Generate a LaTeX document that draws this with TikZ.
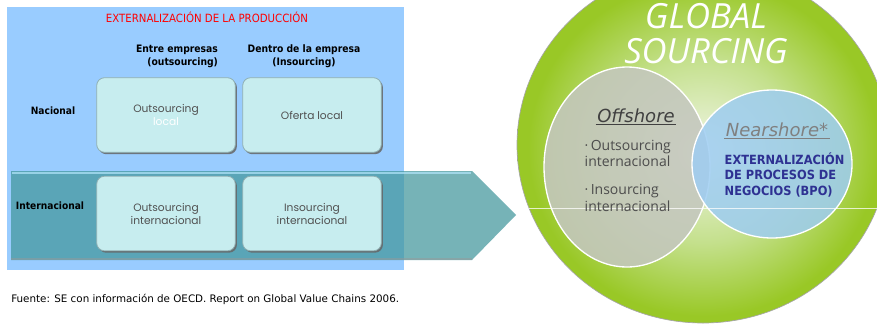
\documentclass[tikz,border=0pt]{standalone}
\usepackage{amsmath, amssymb}
\usepackage{xcolor}
\usepackage{fontspec}
\usepackage{tikz}
\usetikzlibrary{shadows}
\setmainfont{Liberation Sans}
\newfontfamily\tahoma{DejaVu Sans Condensed}
\newfontfamily\verdana{DejaVu Sans}
\newfontfamily\gothic{Poppins}
\newfontfamily\opensans{Open Sans}

\definecolor{skyblue}{HTML}{99CCFF}
\definecolor{bandteal}{RGB}{66,150,156}
\definecolor{cellfill}{HTML}{C7EDEF}
\definecolor{celledge}{HTML}{8FAFB2}
\definecolor{celltext}{HTML}{505050}
\definecolor{leafgreen}{HTML}{99C826}
\definecolor{paleleaf}{HTML}{F0F5E6}
\definecolor{midleaf}{HTML}{C4E08C}
\definecolor{offgray}{HTML}{C4C7BE}
\definecolor{nearblue}{HTML}{9ECDF2}
\definecolor{bpoblue}{HTML}{2E3192}

\pgfdeclareradialshading{glow}{\pgfpoint{0bp}{-1bp}}{color(0bp)=(paleleaf); color(13bp)=(midleaf); color(23.5bp)=(leafgreen); color(50bp)=(leafgreen)}

\begin{document}
\begin{tikzpicture}[x=0.75pt, y=-0.75pt,
    cell/.style={draw=celledge, line width=0.6pt, fill=cellfill, rounded corners=6pt,
      minimum width=104pt, minimum height=56pt, align=center, text=celltext,
      font=\gothic\fontsize{8}{9.75}\selectfont,
      drop shadow={shadow xshift=1.2pt, shadow yshift=-1.4pt, fill=black!60, opacity=.85}},
    rowlabel/.style={font=\tahoma\bfseries\fontsize{7.6}{9}\selectfont},
    colhead/.style={font=\tahoma\bfseries\fontsize{7.7}{9.75}\selectfont},
    shoretitle/.style={font=\verdana\itshape\fontsize{13.5}{16}\selectfont, inner sep=1pt},
    bullets/.style={font=\opensans\fontsize{10.5}{12.4}\selectfont, text=black!70, align=left, anchor=west}]
      \useasboundingbox (0,0) rectangle (877,326);
      \clip (0,0) rectangle (877,326);
      \fill[white] (0,0) rectangle (877,326);
        % externalizacion table
      \fill[skyblue] (7,7) rectangle (404,270);
      \fill[bandteal, opacity=.72] (11,171) -- (472,171) -- (516,215) -- (472,260) -- (11,260) -- cycle;
      \draw[cyan!30, opacity=.7, line width=1pt] (12,173) -- (471,173);
      \draw[black!40, opacity=.5, line width=0.8pt] (11,259) -- (472,259);
      \node[font=\tahoma\fontsize{8.5}{10}\selectfont, text=red] (T) at (207,17) {EXTERNALIZACIÓN DE LA PRODUCCIÓN};
      \node[colhead, align=right] (E) at (177,56.5) {Entre empresas\\(outsourcing)};
      \node[colhead, align=center] (D) at (304,56.5) {Dentro de la empresa\\(Insourcing)};
      \node[rowlabel] (N) at (53,111) {Nacional};
      \node[rowlabel] (I) at (50,206) {Internacional};
      \node[cell] (OL) at (166,115) {Outsourcing\\\textcolor{white}{local}};
      \node[cell] (OF) at (312,115) {Oferta local};
      \node[cell] (OI) at (166,213.5) {Outsourcing\\internacional};
      \node[cell] (II) at (312,213.5) {Insourcing\\internacional};
      \node[font=\verdana\fontsize{7.75}{9}\selectfont, anchor=west, inner sep=0pt] (F) at (11,299) {Fuente: SE con información de OECD. Report on Global Value Chains 2006.};
        % global sourcing
      \shadedraw[shading=glow, draw=gray!70, line width=0.5pt] (703,145) ellipse [x radius=139.5pt, y radius=133.5pt];
      \filldraw[fill=offgray, fill opacity=.88, draw=white, line width=1pt] (627,167) ellipse [x radius=62.25pt, y radius=75pt];
      \filldraw[fill=nearblue, fill opacity=.85, draw=white, line width=1pt] (772,164) ellipse [x radius=60pt, y radius=55.5pt];
      \draw[white, opacity=.75, line width=0.7pt] (529,208) -- (877,208);
      \node[font=\opensans\itshape\fontsize{26}{26.5}\selectfont, text=white, align=center] (G) at (706,33.5) {GLOBAL\\SOURCING};
      \node[shoretitle, text=black!75] (OS) at (636,116) {Offshore};
      \draw[black!75, line width=0.6pt] (OS.south west) -- (OS.south east);
      \node[bullets] (B1) at (580,153.5) {·\,Outsourcing\\internacional};
      \node[bullets] (B2) at (580,198) {·\,Insourcing\\internacional};
      \node[shoretitle, text=black!50] (NS) at (777,130) {Nearshore*};
      \draw[black!50, line width=0.6pt] (NS.south west) -- (NS.south east);
      \node[font=\tahoma\bfseries\fontsize{9.5}{11.6}\selectfont, text=bpoblue, align=left, anchor=west] (BPO) at (720,174.5) {EXTERNALIZACIÓN\\DE PROCESOS DE\\NEGOCIOS (BPO)};
    \end{tikzpicture}
\end{document}
